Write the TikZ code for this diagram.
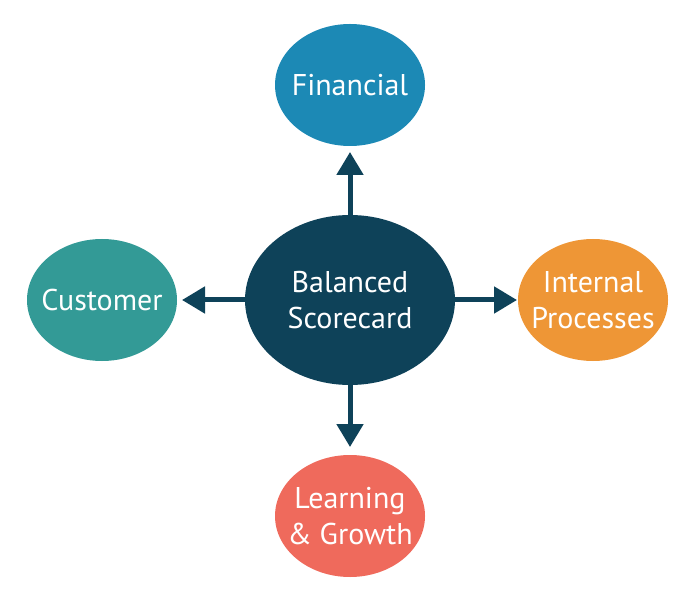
\documentclass[tikz,border=0pt]{standalone}
\usepackage{fontspec}
\setmainfont{PT Sans}
\usepackage{tikz}
\usetikzlibrary{arrows.meta}
\usetikzlibrary{shapes.geometric}
\usetikzlibrary{positioning}
\definecolor{hubblue}{HTML}{0E4259}
\definecolor{finblue}{HTML}{1C89B5}
\definecolor{custeal}{HTML}{339A96}
\definecolor{procorange}{HTML}{EE9636}
\definecolor{learnred}{HTML}{EF6A5C}
\tikzset{blob/.style = {ellipse, inner sep = -25pt, outer sep = 0, text = white, align = center,
                        minimum width = 150pt, minimum height = 122pt,
                        font = \fontsize{30}{36}\selectfont}}
\tikzset{hub/.style = {blob, fill = hubblue,
                       minimum width = 210pt, minimum height = 170pt}}
\tikzset{spoke/.style = {draw = hubblue, line width = 5pt,
                         -{Triangle[length = 23pt, width = 26pt]}}}

\begin{document}
\begin{tikzpicture}[x = 1pt, y = 1pt]
      \useasboundingbox (0, 0) rectangle (700, 600);

      \node [hub] (bsc) at (350, 300) {Balanced\\Scorecard};

      \node [blob, fill = finblue] (fin) at (350, 515) {Financial};
      \node [blob, fill = custeal] (cus) at (102, 300) {Customer};
      \node [blob, fill = procorange] (proc) at (593, 300) {Internal\\Processes};
      \node [blob, fill = learnred] (learn) at (350, 84) {Learning\\\& Growth};

      \draw [spoke, shorten > = 6pt] (bsc.north) -- (fin.south);
      \draw [spoke, shorten > = 5pt] (bsc.west) -- (cus.east);
      \draw [spoke, shorten > = 1pt] (bsc.east) -- (proc.west);
      \draw [spoke, shorten > = 8pt] (bsc.south) -- (learn.north);

    % four perspectives round the scorecard
    \end{tikzpicture}
\end{document}
